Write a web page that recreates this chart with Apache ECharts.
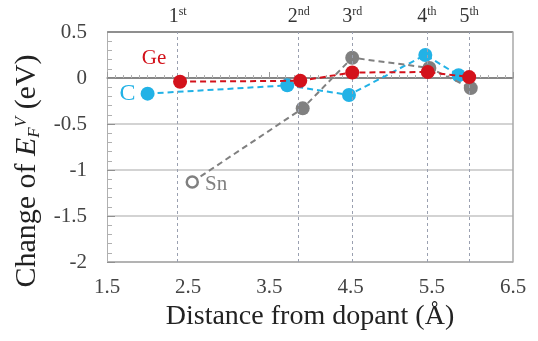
<!DOCTYPE html>
<html>
<head>
<meta charset="utf-8">
<script src="https://cdn.jsdelivr.net/npm/echarts@6/dist/echarts.min.js"></script>
<style>html,body{margin:0;padding:0;background:#fff;}#c{width:538px;height:341px;}</style>
</head>
<body>
<div id="c"></div>
<script>
// ---- data ----
var C_x  = [2.00, 3.72, 4.48, 5.42, 5.83];
var C_y  = [-0.17, -0.08, -0.185, 0.25, 0.03];
var Ge_x = [2.40, 3.88, 4.52, 5.45, 5.96];
var Ge_y = [-0.04, -0.03, 0.06, 0.065, 0.01];
var Sn_x = [2.55, 3.91, 4.52, 5.47, 5.98];
var Sn_y = [-1.13, -0.33, 0.22, 0.11, -0.11];
var shellX = [2.37, 3.86, 4.52, 5.44, 5.96];
var shellNum = ['1', '2', '3', '4', '5'];
var shellSuf = ['st', 'nd', 'rd', 'th', 'th'];
var xTicks = [1.5, 2.5, 3.5, 4.5, 5.5, 6.5];
var yTicks = [-2, -1.5, -1, -0.5, 0, 0.5];

var FONT = "Liberation Serif";
var RED = '#d3121b', CYAN = '#22b2e6', GRAY = '#808080';

function pairs(xs, ys) { return xs.map(function (x, i) { return [x, ys[i]]; }); }

var cData = pairs(C_x, C_y);
cData[0] = { value: cData[0], label: { show: true, position: 'left', distance: 5, formatter: 'C', color: CYAN, fontSize: 24, fontFamily: FONT } };
var geData = pairs(Ge_x, Ge_y);
geData[0] = { value: geData[0], label: { show: true, position: 'top', offset: [-26, 0], distance: 6, formatter: 'Ge', color: RED, fontSize: 21, fontFamily: FONT } };
var snData = pairs(Sn_x, Sn_y);
snData[0] = { value: snData[0], symbolSize: 11,
  itemStyle: { color: '#fff', borderColor: GRAY, borderWidth: 2.5 },
  label: { show: true, position: 'right', distance: 6, offset: [0, 3], formatter: 'Sn', color: GRAY, fontSize: 21, fontFamily: FONT } };

var tickRich = { t: { fontFamily: FONT, fontSize: 21, color: '#444' } };

var chart = echarts.init(document.getElementById('c'), null, { renderer: 'canvas' });
chart.setOption({
  animation: false,
  backgroundColor: '#fff',
  textStyle: { fontFamily: FONT },
  grid: { left: 107, right: 25, top: 32, bottom: 79, outerBoundsMode: 'none', containLabel: false },
  xAxis: {
    type: 'value', min: xTicks[0], max: xTicks[xTicks.length - 1], interval: 1,
    name: 'Distance from dopant (Å)', nameLocation: 'middle', nameGap: 36,
    nameTextStyle: { fontFamily: FONT, fontSize: 28, color: '#222' },
    axisLine: { show: true, lineStyle: { color: '#9a9a9a', width: 1.5 } },
    axisTick: { show: true, inside: true, length: 6, lineStyle: { color: '#9a9a9a' } },
    minorTick: { show: true, splitNumber: 10, length: 3, lineStyle: { color: '#b0b0b0' } },
    splitLine: { show: false },
    axisLabel: { fontFamily: FONT, fontSize: 21, color: '#444', margin: 15, rich: tickRich,
      formatter: function (v) { return '{t|' + v.toFixed(1) + '}'; } }
  },
  yAxis: [{
    type: 'value', min: yTicks[0], max: yTicks[yTicks.length - 1], interval: 0.5,
    name: 'Change of {i|E}{sub|F}{sup|V} (eV)', nameLocation: 'middle', nameGap: 72,
    nameTextStyle: { fontFamily: FONT, fontSize: 30, color: '#222', padding: [0, 48, 0, 0], verticalAlign: 'middle',
      rich: {
        i: { fontFamily: FONT, fontSize: 30, fontStyle: 'italic', color: '#222', verticalAlign: 'middle' },
        sub: { fontFamily: FONT, fontSize: 17, fontStyle: 'italic', color: '#222', verticalAlign: 'middle', padding: [14, 0, 0, 0] },
        sup: { fontFamily: FONT, fontSize: 17, fontStyle: 'italic', color: '#222', verticalAlign: 'middle', padding: [0, 0, 12, 0] }
      } },
    axisLine: { show: true, lineStyle: { color: '#b0b0b0', width: 1 } },
    axisTick: { show: true, inside: true, length: 8, lineStyle: { color: '#909090' } },
    minorTick: { show: true, splitNumber: 5, length: 5, lineStyle: { color: '#b0b0b0' } },
    splitLine: { show: true, lineStyle: { color: ['#9a9a9a', '#c4c4c4', '#c4c4c4', '#c4c4c4', '#111111', '#6a6a6a'], width: 1.6 } },
    axisLabel: { fontFamily: FONT, fontSize: 21, color: '#444', margin: 20, rich: tickRich,
      formatter: function (v) { return '{t|' + String(v) + '}'; } }
  }, {
    type: 'value', min: yTicks[0], max: yTicks[yTicks.length - 1], interval: 0.5, position: 'right',
    axisLine: { show: true, lineStyle: { color: '#a8a8a8', width: 1.5 } },
    axisTick: { show: false }, axisLabel: { show: false }, splitLine: { show: false }
  }],
  series: [
    {
      type: 'line', data: [], silent: true,
      markLine: {
        symbol: ['none', 'none'], silent: true,
        lineStyle: { type: [3, 3], color: '#9aa0b0', width: 1 },
        label: {
          show: true, position: 'end', distance: 4,
          formatter: function (p) { return shellNum[p.dataIndex] + '{s|' + shellSuf[p.dataIndex] + '}'; },
          fontFamily: FONT, fontSize: 20, color: '#333',
          rich: { s: { fontFamily: FONT, fontSize: 12, color: '#333', verticalAlign: 'top', lineHeight: 22, padding: [0, 0, 8, 0] } }
        },
        data: shellX.map(function (x) { return { xAxis: x }; })
      }
    },
    {
      name: 'C', type: 'line', data: cData, symbol: 'circle', symbolSize: 14,
      itemStyle: { color: CYAN, borderWidth: 0 },
      lineStyle: { color: CYAN, width: 2, type: [6, 4] }, z: 3
    },
    {
      name: 'Sn', type: 'line', data: snData, symbol: 'circle', symbolSize: 14,
      itemStyle: { color: GRAY, borderWidth: 0 },
      lineStyle: { color: GRAY, width: 2, type: [6, 4] }, z: 4
    },
    {
      name: 'Ge', type: 'line', data: geData, symbol: 'circle', symbolSize: 14,
      itemStyle: { color: RED, borderWidth: 0 },
      lineStyle: { color: RED, width: 2, type: [6, 4] }, z: 5
    }
  ]
});
</script>
</body>
</html>
